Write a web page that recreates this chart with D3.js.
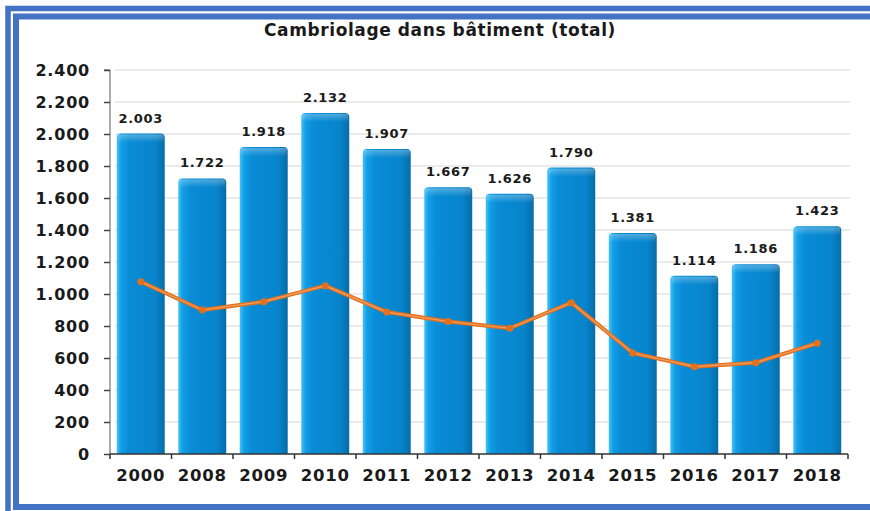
<!DOCTYPE html>
<html>
<head>
<meta charset="utf-8">
<script src="https://cdn.jsdelivr.net/npm/d3@7"></script>
<style>
  body { margin: 0; background: #fff; }
  svg { display: block; }
  text { font-family: "DejaVu Sans", sans-serif; font-weight: bold; fill: #1a1a1a; }
</style>
</head>
<body>
<svg id="chart" width="870" height="511"></svg>
<script>
// data
var years = ["2000", "2008", "2009", "2010", "2011", "2012", "2013", "2014", "2015", "2016", "2017", "2018"];
var totals = [2003, 1722, 1918, 2132, 1907, 1667, 1626, 1790, 1381, 1114, 1186, 1423];
var lineValues = [1077, 900, 952, 1052, 887, 828, 786, 946, 631, 546, 571, 692];
var yTicks = [0, 200, 400, 600, 800, 1000, 1200, 1400, 1600, 1800, 2000, 2200, 2400];
var title = "Cambriolage dans bâtiment (total)";

var svg = d3.select("#chart"),
    margin = {top: 70, right: 22, bottom: 57, left: 110},
    width = 870 - margin.left - margin.right,
    height = 511 - margin.top - margin.bottom,
    g = svg.append("g").attr("transform", "translate(" + margin.left + "," + margin.top + ")");

var fr = d3.formatLocale({decimal: ",", thousands: ".", grouping: [3], currency: ["", "€"]});
var fmt = fr.format(",");

var x = d3.scaleBand().domain(years).range([0, width]).paddingInner(0.22).paddingOuter(0.11);
var xb = d3.scaleBand().domain(years).range([0, width]);
var y = d3.scaleLinear().domain([0, 2400]).range([height, 0]);

// frame
var blue = "#4472c4";
svg.append("path").attr("d", "M8,511 V8.5 H870").attr("fill", "none").attr("stroke", blue).attr("stroke-width", 5.5);
svg.append("path").attr("d", "M16,507 V16.5 H870 M13,507 H870").attr("fill", "none").attr("stroke", blue).attr("stroke-width", 6);

var defs = svg.append("defs");
var grad = defs.append("linearGradient").attr("id", "barGrad").attr("x1", 0).attr("x2", 1).attr("y1", 0).attr("y2", 0);
grad.append("stop").attr("offset", "0%").attr("stop-color", "#45c2f8");
grad.append("stop").attr("offset", "9%").attr("stop-color", "#129ee6");
grad.append("stop").attr("offset", "25%").attr("stop-color", "#098cd6");
grad.append("stop").attr("offset", "80%").attr("stop-color", "#0784cb");
grad.append("stop").attr("offset", "100%").attr("stop-color", "#066da8");

var capGrad = defs.append("linearGradient").attr("id", "capGrad").attr("x1", 0).attr("x2", 0).attr("y1", 0).attr("y2", 1);
capGrad.append("stop").attr("offset", "0%").attr("stop-color", "#ffffff").attr("stop-opacity", 0.3);
capGrad.append("stop").attr("offset", "100%").attr("stop-color", "#ffffff").attr("stop-opacity", 0);

// title
svg.append("text")
    .attr("x", 440)
    .attr("y", 36)
    .attr("text-anchor", "middle")
    .attr("font-size", 17)
    .attr("letter-spacing", 0.6)
    .text(title);

// grid
g.append("g")
  .selectAll("line")
  .data(yTicks.slice(1))
  .enter().append("line")
    .attr("x1", 5)
    .attr("x2", width + 2)
    .attr("y1", function(d) { return y(d); })
    .attr("y2", function(d) { return y(d); })
    .attr("stroke", "#ebebeb")
    .attr("stroke-width", 2);

// bars
var bars = g.append("g").selectAll("g")
    .data(totals)
    .enter().append("g");

function barPath(d, i) {
  var x0 = x(years[i]), w = x.bandwidth(), y0 = y(d), r = 4;
  return "M" + x0 + "," + height + " V" + (y0 + r) + " Q" + x0 + "," + y0 + " " + (x0 + r) + "," + y0 +
    " H" + (x0 + w - r) + " Q" + (x0 + w) + "," + y0 + " " + (x0 + w) + "," + (y0 + r) + " V" + height + " Z";
}

bars.append("path")
    .attr("d", barPath)
    .attr("fill", "url(#barGrad)");

bars.append("rect")
    .attr("x", function(d, i) { return x(years[i]) + 1; })
    .attr("y", function(d) { return y(d) + 1; })
    .attr("width", x.bandwidth() - 2)
    .attr("height", 8)
    .attr("fill", "url(#capGrad)");

bars.append("text")
    .attr("x", function(d, i) { return x(years[i]) + x.bandwidth() / 2; })
    .attr("y", function(d) { return y(d) - 11; })
    .attr("text-anchor", "middle")
    .attr("font-size", 13)
    .attr("letter-spacing", 0.7)
    .text(function(d) { return fmt(d); });

// line
var line = d3.line()
    .x(function(d, i) { return x(years[i]) + x.bandwidth() / 2; })
    .y(function(d) { return y(d); });

g.append("path")
    .datum(lineValues)
    .attr("d", line)
    .attr("fill", "none")
    .attr("stroke", "#e2711f")
    .attr("stroke-width", 4)
    .attr("stroke-linejoin", "round");

g.append("path")
    .datum(lineValues)
    .attr("d", line)
    .attr("fill", "none")
    .attr("stroke", "#f3a064")
    .attr("stroke-width", 1.2);

g.append("g").selectAll("circle")
    .data(lineValues)
    .enter().append("circle")
      .attr("cx", function(d, i) { return x(years[i]) + x.bandwidth() / 2; })
      .attr("cy", function(d) { return y(d); })
      .attr("r", 3.5)
      .attr("fill", "#e2711f");

// axes
var yAxis = g.append("g")
    .call(d3.axisLeft(y).tickValues(yTicks).tickFormat(fmt).tickSize(6).tickPadding(14));
yAxis.select(".domain").attr("stroke", "#555").attr("d", "M-6,0H0V" + height);
yAxis.selectAll(".tick line").attr("stroke", "#444").attr("stroke-width", 1.5);
yAxis.selectAll("text").attr("font-size", 16).attr("fill", "#1a1a1a").attr("letter-spacing", 0.8)
    .attr("font-family", "DejaVu Sans, sans-serif").attr("font-weight", "bold");

var xAxis = g.append("g")
    .attr("transform", "translate(0," + height + ")")
    .call(d3.axisBottom(xb).tickSize(0).tickPadding(15));
xAxis.select(".domain").attr("stroke", "#333").attr("stroke-width", 1.5).attr("d", "M0,0H" + width);
xAxis.selectAll("text").attr("font-size", 16.5).attr("fill", "#1a1a1a").attr("letter-spacing", 0.8)
    .attr("font-family", "DejaVu Sans, sans-serif").attr("font-weight", "bold");

xAxis.append("g").selectAll("line")
    .data(years)
    .enter().append("line")
      .attr("x1", function(d) { return xb(d) + xb.bandwidth(); })
      .attr("x2", function(d) { return xb(d) + xb.bandwidth(); })
      .attr("y1", 0)
      .attr("y2", 5)
      .attr("stroke", "#333")
      .attr("stroke-width", 1.5);
xAxis.append("line").attr("x1", 0).attr("x2", 0).attr("y1", 0).attr("y2", 5).attr("stroke", "#333").attr("stroke-width", 1.5);
</script>
</body>
</html>
